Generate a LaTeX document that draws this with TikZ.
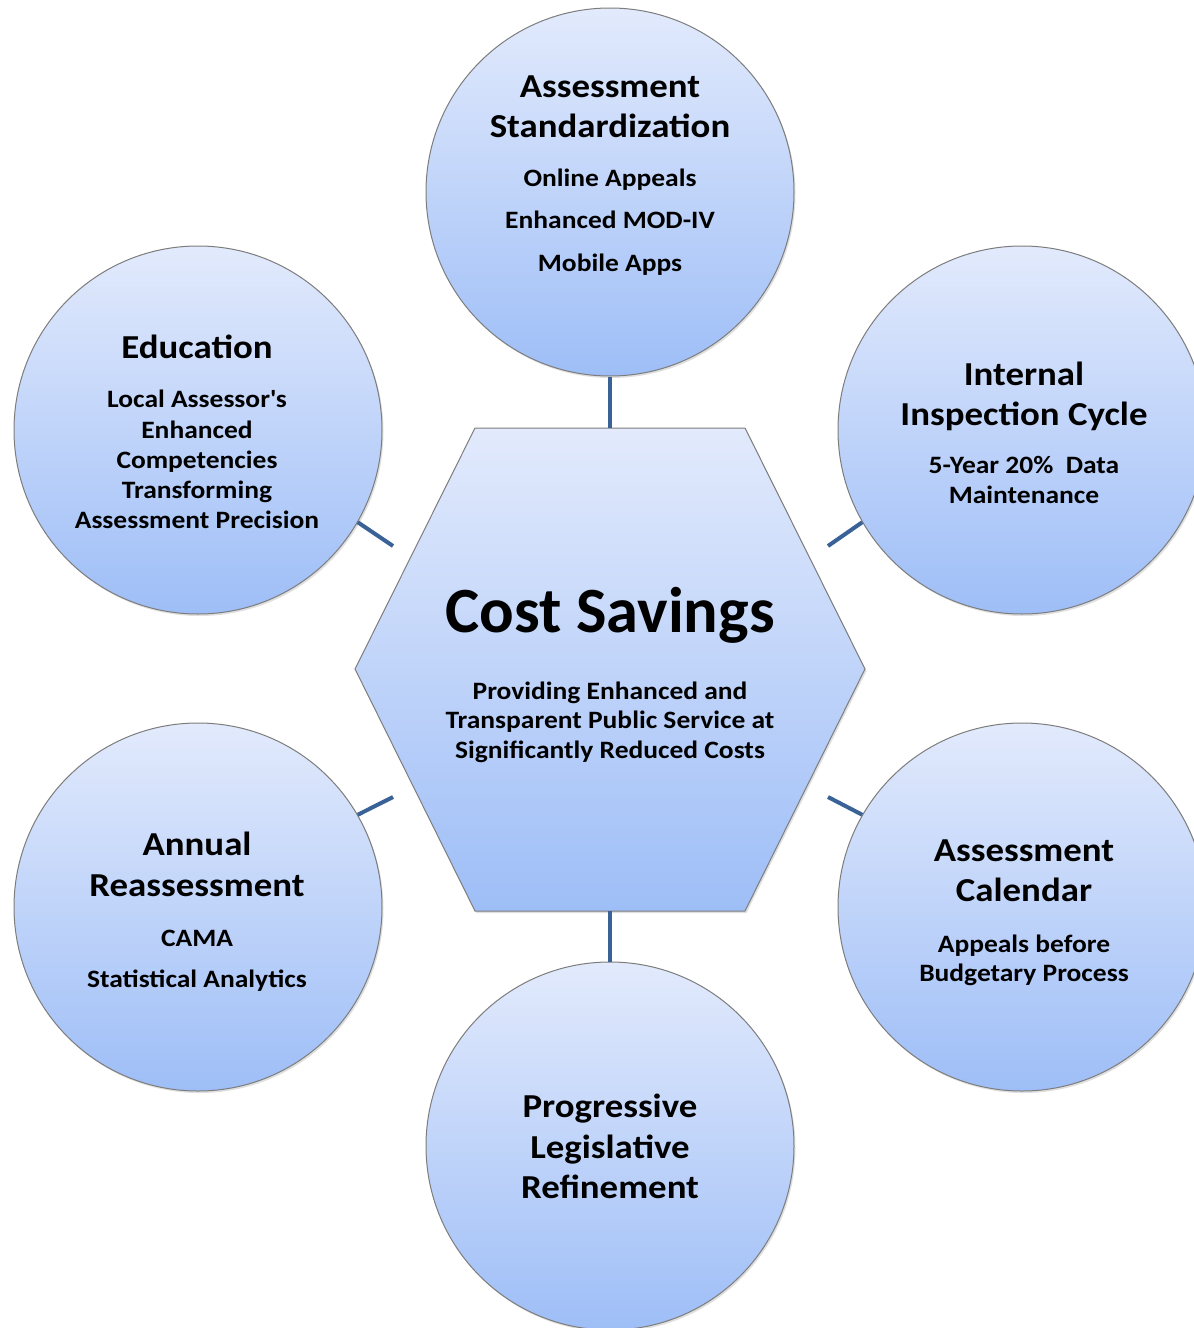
\documentclass[tikz,border=0pt]{standalone}
\usepackage{fontspec}
\setmainfont{Carlito}
\newfontfamily\wfont{Carlito}[FakeStretch=1.1]
\usetikzlibrary{shadows}
\definecolor{topc}{RGB}{226,234,252}
\definecolor{botc}{RGB}{158,190,247}
\definecolor{edgec}{RGB}{125,125,125}
\definecolor{linkc}{RGB}{58,98,150}
\begin{document}
\begin{tikzpicture}[x=1pt,y=-1pt,
  bubble/.style={circle, minimum size=368pt, inner sep=0pt, top color=topc, bottom color=botc,
    draw=edgec, line width=1pt, drop shadow={opacity=0.25, shadow xshift=1.5pt, shadow yshift=-2pt}},
  hexshape/.style={top color=topc, bottom color=botc, draw=edgec, line width=1pt,
    drop shadow={opacity=0.25, shadow xshift=1.5pt, shadow yshift=-2pt}},
  ttl/.style={anchor=base, font=\wfont\bfseries\fontsize{33.5}{40}\selectfont, inner sep=0pt},
  sub/.style={anchor=base, font=\wfont\bfseries\fontsize{25}{30}\selectfont, inner sep=0pt},
  big/.style={anchor=base, font=\bfseries\fontsize{64.5}{78}\selectfont, inner sep=0pt},
  linkline/.style={draw=linkc, line width=4pt}]
\useasboundingbox (0,0) rectangle (1194,1328);
\fill[white] (0,0) rectangle (1194,1328);
\clip (0,0) rectangle (1194,1328);

% hexagon
\path[hexshape] (475,428) -- (745,428) -- (865,669) -- (745,911) -- (475,911) -- (355,669) -- cycle;

% circles
\node[bubble] (c1) at (610,192) {};
\node[bubble] (c2) at (1022,430) {};
\node[bubble] (c3) at (1022,907) {};
\node[bubble] (c4) at (610,1146) {};
\node[bubble] (c5) at (198,430) {};
\node[bubble] (c6) at (198,907) {};

% connector ends on the hexagon side
\coordinate (hT) at (610,428);
\coordinate (hB) at (610,911);
\coordinate (hTL) at (393,546);
\coordinate (hTR) at (828,546);
\coordinate (hBL) at (393,797);
\coordinate (hBR) at (828,797);

\draw[linkline] (c1.south) -- (hT);
\draw[linkline] (c4.north) -- (hB);
\draw[linkline] (c5.-30) -- (hTL);
\draw[linkline] (c2.210) -- (hTR);
\draw[linkline] (c6.30) -- (hBL);
\draw[linkline] (c3.150) -- (hBR);

% centre text
\node[big] (cs) at (610,632) {Cost Savings};
\node[sub] (cs1) at (610,699) {Providing Enhanced and};
\node[sub] (cs2) at (610,728.5) {Transparent Public Service at};
\node[sub] (cs3) at (610,758) {Significantly Reduced Costs};

% top
\node[ttl] (a1) at (610,97) {Assessment};
\node[ttl] (a2) at (610,137) {Standardization};
\node[sub] (a3) at (610,186) {Online Appeals};
\node[sub] (a4) at (610,228) {Enhanced MOD-IV};
\node[sub] (a5) at (610,271) {Mobile Apps};

% education
\node[ttl] (e1) at (197,358) {Education};
\node[sub] (e2) at (197,407) {Local Assessor\textquotesingle s};
\node[sub] (e3) at (197,438) {Enhanced};
\node[sub] (e4) at (197,468) {Competencies};
\node[sub] (e5) at (197,498) {Transforming};
\node[sub] (e6) at (197,528) {Assessment Precision};

% internal inspection
\node[ttl] (i1) at (1024,385) {Internal};
\node[ttl] (i2) at (1024,425) {Inspection Cycle};
\node[sub] (i3) at (1024,473) {5-Year 20\%\ \ Data};
\node[sub] (i4) at (1024,503) {Maintenance};

% annual
\node[ttl] (r1) at (197,855) {Annual};
\node[ttl] (r2) at (197,896) {Reassessment};
\node[sub] (r3) at (197,946) {CAMA};
\node[sub] (r4) at (197,987) {Statistical Analytics};

% calendar
\node[ttl] (k1) at (1024,861) {Assessment};
\node[ttl] (k2) at (1024,901) {Calendar};
\node[sub] (k3) at (1024,952) {Appeals before};
\node[sub] (k4) at (1024,981) {Budgetary Process};

% progressive
\node[ttl] (p1) at (610,1117) {Progressive};
\node[ttl] (p2) at (610,1158) {Legislative};
\node[ttl] (p3) at (610,1198) {Refinement};
\end{tikzpicture}
\end{document}
